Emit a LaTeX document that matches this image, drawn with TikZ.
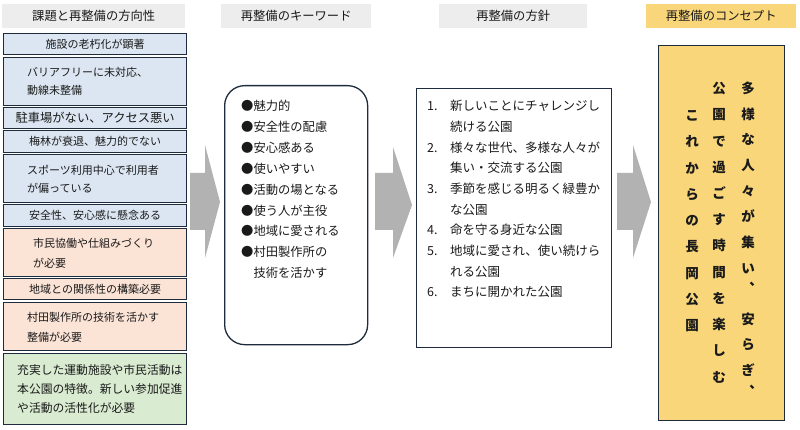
\documentclass[tikz,border=0pt]{standalone}
\usepackage{fontspec}
\newfontfamily\jp{Noto Sans CJK JP}
\definecolor{navy}{HTML}{1E2B3C}
\definecolor{lblue}{HTML}{DCE6F2}
\definecolor{lpink}{HTML}{FBE3D6}
\definecolor{lgreen}{HTML}{D9EBD0}
\definecolor{hdrgray}{HTML}{EDEDED}
\definecolor{gold}{HTML}{F8D679}
\definecolor{arrowgray}{HTML}{B2B2B2}
\definecolor{ink}{HTML}{1A1A1A}
\begin{document}
\begin{tikzpicture}[x=1pt,y=-1pt,
  hdr/.style={fill=hdrgray, inner sep=0, anchor=north west, minimum height=24pt, text=ink, font=\jp\fontsize{12.3}{14}\selectfont},
  lbox/.style={draw=navy, line width=1.3pt, inner sep=0, minimum width=183pt, anchor=north west},
  ltxt/.style={inner sep=0, anchor=west, align=left, text=ink, font=\jp\fontsize{11}{18}\selectfont},
  bigbox/.style={draw=navy, line width=1.3pt, inner sep=0, anchor=north west},
  blockarrow/.style={fill=arrowgray},
  vchar/.style={inner sep=0, text=ink, text height=0.88em, text depth=0.12em, font=\jp\fontsize{13.5}{14}\selectfont\bfseries},
  vcomma/.style={vchar, xshift=8pt, yshift=13pt},
]
\useasboundingbox (0,0) rectangle (800,430);

% headers
\node[hdr, minimum width=183pt] (h1) at (2,4) {課題と再整備の方向性};
\node[hdr, minimum width=150pt] (h2) at (221,4) {再整備のキーワード};
\node[hdr, minimum width=148pt] (h3) at (439,4) {再整備の方針};
\node[hdr, minimum width=150pt, fill=gold] (h4) at (646,4) {再整備のコンセプト};

% left column boxes
\node[lbox, fill=lblue, minimum height=21pt] (b1) at (3,33) {};
\node[ltxt, anchor=center] (t1) at (b1.center) {施設の老朽化が顕著};
\node[lbox, fill=lblue, minimum height=48pt] (b2) at (3,57) {};
\node[ltxt] (t2) at (27,81) {バリアフリーに未対応、\\動線未整備};
\node[lbox, fill=lblue, minimum height=21pt] (b3) at (3,107) {};
\node[ltxt, anchor=center, font=\jp\fontsize{12.3}{14}\selectfont] (t3) at (b3.center) {駐車場がない、アクセス悪い};
\node[lbox, fill=lblue, minimum height=22pt] (b4) at (3,130) {};
\node[ltxt, anchor=center] (t4) at (b4.center) {梅林が衰退、魅力的でない};
\node[lbox, fill=lblue, minimum height=48pt] (b5) at (3,154) {};
\node[ltxt] (t5) at (27,179) {スポーツ利用中心で利用者\\が偏っている};
\node[lbox, fill=lblue, minimum height=22pt] (b6) at (3,204) {};
\node[ltxt, anchor=center] (t6) at (b6.center) {安全性、安心感に懸念ある};
\node[lbox, fill=lpink, minimum height=48pt] (b7) at (3,228) {};
\node[ltxt, font=\jp\fontsize{11}{20}\selectfont] (t7) at (33,253) {市民協働や仕組みづくり\\が必要};
\node[lbox, fill=lpink, minimum height=21pt] (b8) at (3,278) {};
\node[ltxt, anchor=center] (t8) at (b8.center) {地域との関係性の構築必要};
\node[lbox, fill=lpink, minimum height=48pt] (b9) at (3,302) {};
\node[ltxt, font=\jp\fontsize{11}{20}\selectfont] (t9) at (27,327) {村田製作所の技術を活かす\\整備が必要};
\node[lbox, fill=lgreen, minimum height=71pt] (b10) at (3,353) {};
\node[ltxt, font=\jp\fontsize{11.8}{19}\selectfont] (t10) at (17,389) {充実した運動施設や市民活動は\\本公園の特徴。新しい参加促進\\や活動の活性化が必要};

% keyword box
\node[bigbox, rounded corners=20pt, minimum width=143pt, minimum height=259pt] (kw) at (224,85) {};
\node[ltxt, font=\jp\fontsize{12.3}{20.9}\selectfont] (kwt) at (241,189.5) {●魅力的\\●安全性の配慮\\●安心感ある\\●使いやすい\\●活動の場となる\\●使う人が主役\\●地域に愛される\\●村田製作所の\\\phantom{●}技術を活かす};

% policy box
\node[bigbox, minimum width=195pt, minimum height=259pt] (pol) at (416,88) {};
\node[ltxt, font=\jp\fontsize{12.5}{20.67}\selectfont] (polt) at (427,199) {%
\makebox[23pt][l]{1.}新しいことにチャレンジし\\
\hspace*{23pt}続ける公園\\
\makebox[23pt][l]{2.}様々な世代、多様な人々が\\
\hspace*{23pt}集い・交流する公園\\
\makebox[23pt][l]{3.}季節を感じる明るく緑豊か\\
\hspace*{23pt}な公園\\
\makebox[23pt][l]{4.}命を守る身近な公園\\
\makebox[23pt][l]{5.}地域に愛され、使い続けら\\
\hspace*{23pt}れる公園\\
\makebox[23pt][l]{6.}まちに開かれた公園};

% concept box
\node[bigbox, fill=gold, minimum width=126pt, minimum height=375pt] (con) at (658,45) {};
\foreach \i/\c in {1/多,2/様,3/な,4/人,5/々,6/が,7/集,8/い,10/安,11/ら,12/ぎ}
  \node[vchar] (ca\i) at (748,{90+25.6*(\i-1)}) {\c};
\node[vcomma] (ca9) at (748,{90+25.6*8}) {、};
\node[vcomma] (ca13) at (748,{90+25.6*12}) {、};
\foreach \c [count=\i] in {公,園,で,過,ご,す,時,間,を,楽,し,む}
  \node[vchar] (cb\i) at (719,{90+26.2*(\i-1)}) {\c};
\foreach \c [count=\i] in {こ,れ,か,ら,の,長,岡,公,園}
  \node[vchar] (cc\i) at (692,{117+26.2*(\i-1)}) {\c};

% block arrows
\fill[blockarrow] (190,173) -- (205,173) -- (205,145) -- (220,202) -- (205,258) -- (205,230) -- (190,230) -- cycle;
\fill[blockarrow] (375,173) -- (393,173) -- (393,147) -- (412,205) -- (393,258) -- (393,230) -- (375,230) -- cycle;
\fill[blockarrow] (617,173) -- (633,173) -- (633,145) -- (651,202) -- (633,258) -- (633,230) -- (617,230) -- cycle;
\end{tikzpicture}
\end{document}
